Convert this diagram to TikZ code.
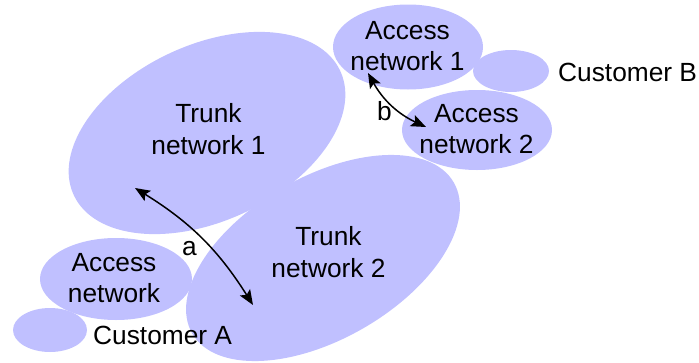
\documentclass[tikz,border=0pt]{standalone}
\usepackage{fontspec}
\setmainfont{Liberation Sans}
\usetikzlibrary{shapes.geometric,arrows.meta}
\definecolor{lav}{RGB}{192,192,255}
\begin{document}
\begin{tikzpicture}[x=1pt,y=1pt,
  blob/.style={ellipse,fill=lav,draw=none,inner sep=0pt},
  lbl/.style={align=center,inner sep=0pt,font=\fontsize{26.3}{31.5}\selectfont},
  link/.style={line width=1.5pt,{Stealth[length=15pt,width=12pt,inset=3pt]}-{Stealth[length=15pt,width=12pt,inset=3pt]}}]
\useasboundingbox (0,0) rectangle (699,-362);
% ellipses
\node[blob,minimum width=294pt,minimum height=176pt,rotate=25] (t1) at (207,-133) {};
\node[blob,minimum width=302pt,minimum height=162pt,rotate=30] (t2) at (323,-258) {};
\node[blob,minimum width=152pt,minimum height=82pt] (accA) at (116,-279) {};
\node[blob,minimum width=74pt,minimum height=44pt] (custA) at (50,-330) {};
\node[blob,minimum width=150pt,minimum height=85pt] (acc1) at (408,-47) {};
\node[blob,minimum width=76pt,minimum height=42pt] (custB) at (511,-71) {};
\node[blob,minimum width=150pt,minimum height=80pt] (acc2) at (477,-130) {};
% labels
\node[lbl] (lt1) at (208.5,-129) {Trunk\\network 1};
\node[lbl] (lt2) at (328.5,-252) {Trunk\\network 2};
\node[lbl] (laA) at (114,-278) {Access\\network};
\node[lbl] (la1) at (407.5,-46) {Access\\network 1};
\node[lbl] (la2) at (476.5,-129) {Access\\network 2};
\node[lbl,anchor=base west] (lcB) at (558,-81.7) {Customer B};
\node[lbl,anchor=base west] (lcA) at (93,-344) {Customer A};
\node[lbl,anchor=base west] (la) at (182,-255) {a};
\node[lbl,anchor=base west] (lb) at (377,-120.7) {b};
% connectors
\coordinate (a1) at (135,-188);
\coordinate (a2) at (253,-305);
\coordinate (b1) at (368,-73);
\coordinate (b2) at (426,-127);
\draw[link] (a1) to[bend left=13] (a2);
\draw[link] (b1) to[bend right=18] (b2);
\end{tikzpicture}
\end{document}
